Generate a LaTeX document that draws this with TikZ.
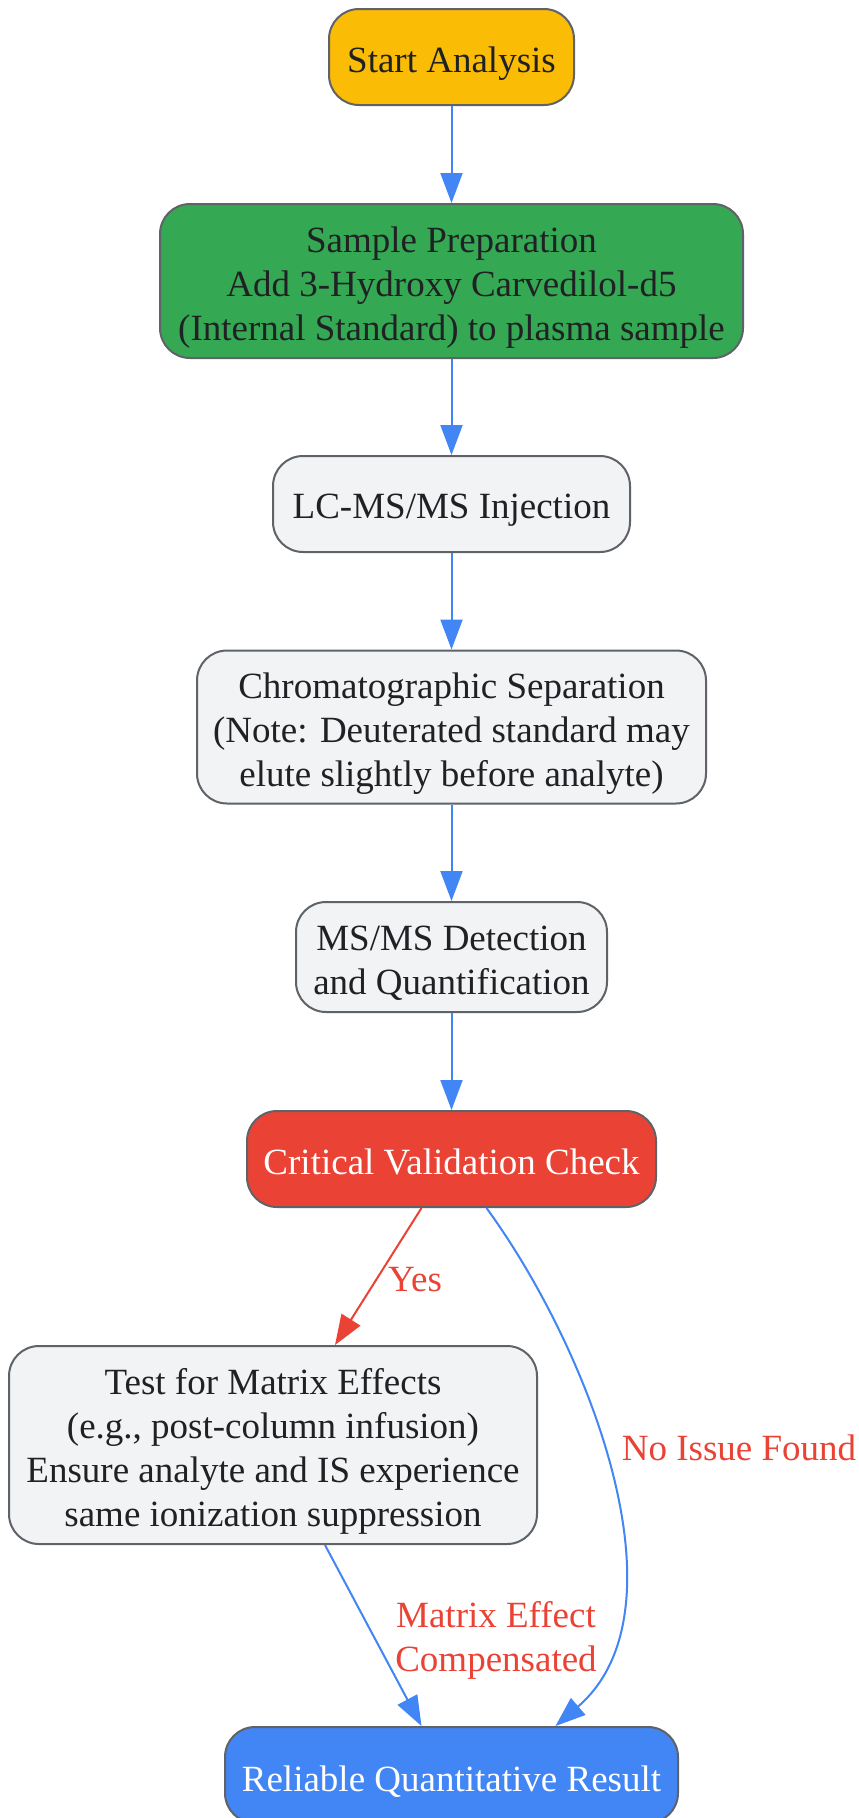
\documentclass[tikz,border=0pt]{standalone}
\usepackage{fontspec}
\setmainfont{Liberation Serif}
\usetikzlibrary{arrows.meta,calc}
\definecolor{gyellow}{HTML}{FBBC05}
\definecolor{ggreen}{HTML}{34A853}
\definecolor{ggrey}{HTML}{F1F3F4}
\definecolor{gred}{HTML}{EA4335}
\definecolor{gblue}{HTML}{4285F4}
\definecolor{gborder}{HTML}{5F6368}
\definecolor{gtext}{HTML}{202124}
\tikzset{
  box/.style={draw=gborder, line width=2pt, rounded corners=30pt, inner sep=0pt},
  txt/.style={align=center, inner sep=0pt, text=gtext, yshift=-6.5pt,
    font=\fontsize{37}{44}\selectfont},
  wtxt/.style={txt, text=white},
  flow/.style={draw=gblue, line width=2pt, -{Triangle[length=30pt,width=22pt]}},
  redflow/.style={draw=gred, line width=2pt, -{Triangle[length=30pt,width=22pt]}},
  elabel/.style={text=gred, align=center, inner sep=0pt, font=\fontsize{37}{44}\selectfont}
}
\begin{document}
\begin{tikzpicture}[x=1pt,y=-1pt]
\fill[white] (0,0) rectangle (859,1818);
\useasboundingbox (0,0) rectangle (859,1818);
\clip (0,0) rectangle (859,1818);

\node[box, fill=gyellow, minimum width=245pt, minimum height=96pt,
  label={[txt]center:{Start Analysis}}] (start) at (451.5,57) {};
\node[box, fill=ggreen, minimum width=583pt, minimum height=154pt,
  label={[txt]center:{Sample Preparation\\Add 3-Hydroxy Carvedilol-d5\\(Internal Standard) to plasma sample}}] (prep) at (451.5,281) {};
\node[box, fill=ggrey, minimum width=357pt, minimum height=96pt,
  label={[txt]center:{LC-MS/MS Injection}}] (inj) at (451.5,504) {};
\node[box, fill=ggrey, minimum width=509pt, minimum height=153pt,
  label={[txt]center:{Chromatographic Separation\\(Note: Deuterated standard may\\elute slightly before analyte)}}] (chrom) at (451.5,727) {};
\node[box, fill=ggrey, minimum width=311pt, minimum height=110pt,
  label={[txt]center:{MS/MS Detection\\and Quantification}}] (det) at (451.5,957) {};
\node[box, fill=gred, minimum width=409pt, minimum height=96pt,
  label={[wtxt]center:{Critical Validation Check\vphantom{y}}}] (crit) at (451.5,1159) {};
\node[box, fill=ggrey, minimum width=528pt, minimum height=198pt,
  label={[txt]center:{Test for Matrix Effects\\(e.g., post-column infusion)\\Ensure analyte and IS experience\\same ionization suppression}}] (test) at (273,1445) {};
\node[box, fill=gblue, minimum width=453pt, minimum height=96pt,
  label={[wtxt]center:{Reliable Quantitative Result}}] (res) at (451.5,1775) {};

\draw[flow] (start) -- (prep);
\draw[flow] (prep) -- (inj);
\draw[flow] (inj) -- (chrom);
\draw[flow] (chrom) -- (det);
\draw[flow] (det) -- (crit);

\coordinate (yesA) at ($(crit.south)+(-30,0)$);
\coordinate (yesB) at ($(test.north)+(62,0)$);
\draw[redflow] (yesA) -- (yesB);
\node[elabel] (yes) at (415,1280) {Yes};

\coordinate (noA) at ($(crit.south)+(35,0)$);
\coordinate (noB) at ($(res.north)+(104,0)$);
\draw[flow] (noA) .. controls (590,1350) and (690,1610) .. (noB);
\node[elabel] (nolab) at (739,1448) {No Issue Found};

\coordinate (mA) at ($(test.south)+(52,0)$);
\coordinate (mB) at ($(res.north)+(-30,0)$);
\draw[flow] (mA) -- (mB);
\node[elabel] (mlab) at (496,1640) {Matrix Effect\\Compensated};
\end{tikzpicture}
\end{document}
